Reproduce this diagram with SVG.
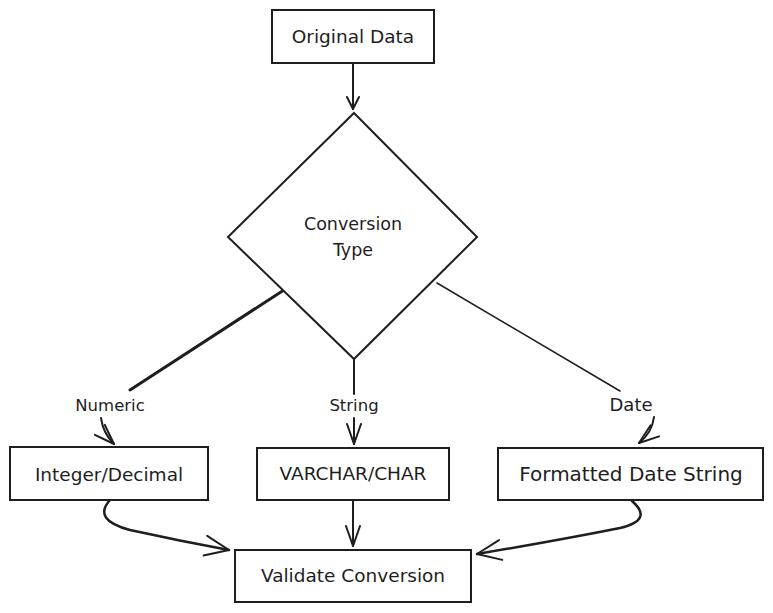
<svg xmlns="http://www.w3.org/2000/svg" width="773" height="613" viewBox="0 0 773 613">
<defs>
<style>
.box{fill:#ffffff;stroke:#1e1e1e;stroke-width:2}
.t{font-family:"DejaVu Sans","Liberation Sans",sans-serif;font-size:18.5px;fill:#1e1e1e;text-anchor:middle}
.lbl{font-family:"DejaVu Sans","Liberation Sans",sans-serif;font-size:16.5px;fill:#1e1e1e;text-anchor:middle}
.c{fill:none;stroke:#1e1e1e;stroke-width:2;stroke-linecap:round;stroke-linejoin:round}
</style>
<marker id="ah" markerUnits="userSpaceOnUse" markerWidth="30" markerHeight="24" refX="24" refY="10" orient="auto" overflow="visible">
<path d="M0,0 L24,10 L0,20" fill="none" stroke="#1e1e1e" stroke-width="2" stroke-linecap="round" stroke-linejoin="round"/>
</marker>
<marker id="ahs" markerUnits="userSpaceOnUse" markerWidth="16" markerHeight="14" refX="12" refY="6" orient="auto" overflow="visible">
<path d="M0,0 L12,6 L0,12" fill="none" stroke="#1e1e1e" stroke-width="2" stroke-linecap="round" stroke-linejoin="round"/>
</marker>
<marker id="ahm" markerUnits="userSpaceOnUse" markerWidth="26" markerHeight="18" refX="20" refY="7" orient="auto" overflow="visible">
<path d="M0,0 L20,7 L0,14" fill="none" stroke="#1e1e1e" stroke-width="2" stroke-linecap="round" stroke-linejoin="round"/>
</marker>
</defs>
<rect width="773" height="613" fill="#ffffff"/>
<g id="connectors">
<path class="c" d="M353,63 L353,109" marker-end="url(#ahs)"/>
<path class="c" d="M287,288 L130,390" style="stroke-width:3"/>
<path class="c" d="M101,418 Q103,433 114,444" marker-end="url(#ahm)"/>
<path class="c" d="M354,359 L354,394"/>
<path class="c" d="M354,418 L354,444" marker-end="url(#ahm)"/>
<path class="c" d="M437,283 L620,391" style="stroke-width:1.5"/>
<path class="c" d="M654,417 Q652,433 639,443" marker-end="url(#ahm)"/>
<path class="c" d="M110,500 Q92,520 130,530 Q180,541 229,550" marker-end="url(#ah)" style="stroke-width:2.5"/>
<path class="c" d="M353,500 L353,546" marker-end="url(#ahm)"/>
<path class="c" d="M632,501 Q654,520 620,528 Q560,540 477,554" marker-end="url(#ah)" style="stroke-width:2.5"/>
</g>
<g id="original-data">
<rect class="box" x="272" y="10" width="162" height="53"/>
<text class="t" x="353" y="43">Original Data</text>
</g>
<g id="conversion-type">
<polygon class="box" points="354,113 477,237 354,359 228,237"/>
<text class="t" x="353" y="230" style="font-size:17.5px">Conversion</text>
<text class="t" x="353" y="256" style="font-size:17.5px">Type</text>
</g>
<g id="integer-decimal">
<rect class="box" x="10" y="447" width="198" height="53"/>
<text class="t" x="109" y="481">Integer/Decimal</text>
</g>
<g id="varchar-char">
<rect class="box" x="257" y="448" width="192" height="52"/>
<text class="t" x="353" y="480">VARCHAR/CHAR</text>
</g>
<g id="formatted-date-string">
<rect class="box" x="498" y="448" width="265" height="52"/>
<text class="t" x="631" y="481" style="font-size:20px">Formatted Date String</text>
</g>
<g id="validate-conversion">
<rect class="box" x="235" y="550" width="236" height="52"/>
<text class="t" x="353" y="582">Validate Conversion</text>
</g>
<g id="labels">
<text class="lbl" x="110" y="411">Numeric</text>
<text class="lbl" x="354" y="411">String</text>
<text class="lbl" x="631" y="411" style="font-size:18px">Date</text>
</g>
</svg>
